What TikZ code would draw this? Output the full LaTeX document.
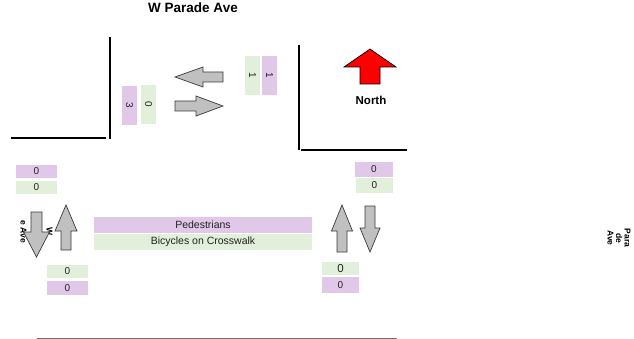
\documentclass[tikz,border=0pt]{standalone}
\usepackage{fontspec}
\setmainfont{Liberation Sans}
\definecolor{pedcol}{HTML}{E2C8E8}
\definecolor{bikecol}{HTML}{E2EFDA}
\definecolor{arrowfill}{HTML}{C0C0C0}
\definecolor{arrowline}{HTML}{3A3A3A}
\definecolor{txtcol}{HTML}{222222}
\tikzset{
  roadline/.style={draw=black, line width=1.1pt},
  pbox/.style={fill=pedcol, inner sep=0pt, text=txtcol, font=\fontsize{10}{11}\selectfont},
  gbox/.style={fill=bikecol, inner sep=0pt, text=txtcol, font=\fontsize{10}{11}\selectfont},
  streetlabel/.style={font=\bfseries\fontsize{8.5}{8.5}\selectfont, align=center, inner sep=0pt},
  pics/garrow/.style n args={4}{code={
    \draw[fill=arrowfill, draw=arrowline, line width=0.7pt, line join=miter]
      (0,-#4) -- ({#1-#2},-#4) -- ({#1-#2},-#3) -- (#1,0) -- ({#1-#2},#3) -- ({#1-#2},#4) -- (0,#4) -- cycle;
  }}
}
\begin{document}
\begin{tikzpicture}[x=1pt,y=-1pt]
\useasboundingbox (0,0) rectangle (634,339);
% street labels
\node[font=\bfseries\fontsize{13.5}{15}\selectfont, inner sep=0pt] (title) at (193,8) {W Parade Ave};
\node[streetlabel, rotate=-90, font=\bfseries\fontsize{8.5}{13}\selectfont] (wlabel) at (36.5,232) {W\\Parad\\e Ave};
\node[streetlabel, rotate=-90] (elabel) at (619,238) {Para\\de\\Ave};
% road edges
\draw[roadline] (110,37) -- (110,139);
\draw[roadline] (11,138) -- (106,138);
\draw[roadline] (299,45) -- (299,150);
\draw[roadline] (301,150) -- (407,150);
\draw[draw=black!55, line width=1pt] (37,338) -- (397,338);
% north arrow
\draw[fill=red, draw=black, line width=0.7pt, line join=miter]
  (370,49) -- (396,67) -- (380,67) -- (380,84) -- (360,84) -- (360,67) -- (344,67) -- cycle;
\node[font=\bfseries\fontsize{11.5}{13}\selectfont, inner sep=0pt] (north) at (371,100) {North};
% top approach
\node[pbox, rotate=-90, minimum width=39pt, minimum height=15pt] (t3) at (129.5,105.5) {3};
\node[gbox, rotate=-90, minimum width=39pt, minimum height=15pt] (t0) at (148.5,104.5) {0};
\node[gbox, rotate=-90, minimum width=39pt, minimum height=15pt] (t1g) at (252.5,75.5) {1};
\node[pbox, rotate=-90, minimum width=39pt, minimum height=15pt] (t1p) at (269.5,75.5) {1};
\pic[rotate=180] at (223,77) {garrow={48}{28}{10}{5}};
\pic at (175,106) {garrow={48}{27}{10}{5}};
% left approach
\node[pbox, minimum width=41pt, minimum height=13pt] (l0p) at (36.5,171.5) {0};
\node[gbox, minimum width=41pt, minimum height=13pt] (l0g) at (36.5,187.5) {0};
\pic[rotate=-90] at (36.5,212) {garrow={45}{25}{13}{5.5}};
\pic[rotate=90] at (66,250) {garrow={45}{26}{11}{5}};
\node[gbox, minimum width=41pt, minimum height=13pt] (b0g) at (67.5,271.5) {0};
\node[pbox, minimum width=41pt, minimum height=14pt] (b0p) at (67.5,288) {0};
% crosswalk legend
\node[pbox, minimum width=218pt, minimum height=16pt, font=\fontsize{10.5}{12}\selectfont] (ped) at (203,225) {Pedestrians};
\node[gbox, minimum width=218pt, minimum height=16pt, font=\fontsize{10.5}{12}\selectfont] (bike) at (203,242) {Bicycles on Crosswalk};
% right approach
\node[pbox, minimum width=38pt, minimum height=15pt] (r0p) at (374,169.5) {0};
\node[gbox, minimum width=37pt, minimum height=15pt] (r0g) at (374.5,185.5) {0};
\pic[rotate=90] at (342,252) {garrow={47}{26}{10.5}{5}};
\pic[rotate=-90] at (370,206) {garrow={46}{24}{10}{5}};
\node[gbox, minimum width=37pt, minimum height=13pt, font=\fontsize{11.5}{12}\selectfont] (br0g) at (340.5,268.5) {0};
\node[pbox, minimum width=37pt, minimum height=16pt] (br0p) at (340.5,285) {0};
\end{tikzpicture}
\end{document}
